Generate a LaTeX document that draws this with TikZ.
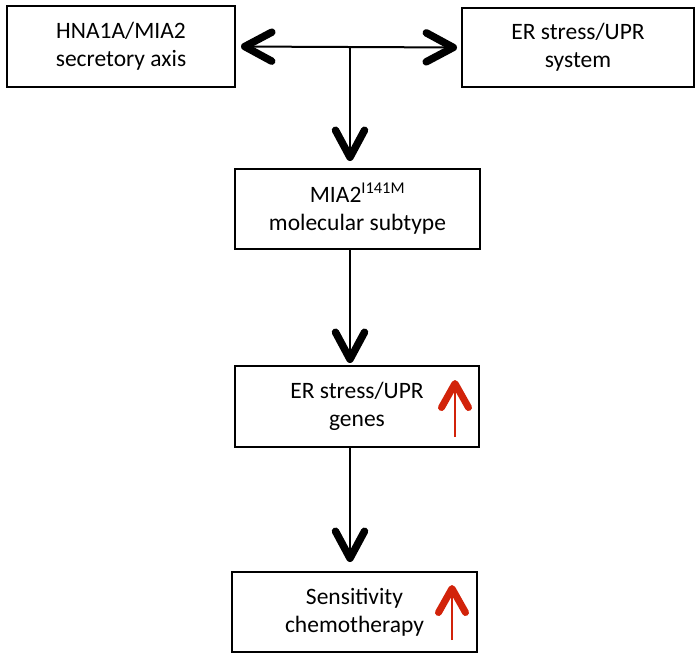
\documentclass[tikz,border=0pt]{standalone}
\usepackage{fontspec}
\setmainfont{Carlito}
\usetikzlibrary{arrows.meta}
\definecolor{upred}{RGB}{210,35,10}
\begin{document}
\begin{tikzpicture}[x=1pt,y=-1pt,
  box/.style={draw=black,line width=2pt,align=center,inner sep=0pt,
    font=\fontsize{23.5}{28}\selectfont},
  chev/.style={line width=2pt,-{Straight Barb[length=27pt,width=29pt,line width=7.5pt,round]}},
  dchev/.style={line width=2pt,{Straight Barb[length=27pt,width=29pt,line width=7.5pt,round]}-{Straight Barb[length=27pt,width=29pt,line width=7.5pt,round]}},
  uparrow/.style={draw=upred,line width=2pt,-{Straight Barb[length=24pt,width=27pt,line width=7pt,round]}}]
\useasboundingbox (0,0) rectangle (699,659);
\node[box,minimum width=228pt,minimum height=81pt] (hna) at (121,46.5) {HNA1A/MIA2\\secretory axis};
\node[box,minimum width=232pt,minimum height=79pt] (ers) at (578,47.5) {ER stress/UPR\\system};
\node[box,minimum width=245pt,minimum height=80pt] (mia) at (357.5,209) {MIA2\textsuperscript{I141M}\\molecular subtype};
\node[box,minimum width=244pt,minimum height=81pt] (genes) at (357,406.5) {ER stress/UPR\\genes};
\node[box,minimum width=245pt,minimum height=80pt] (sens) at (354.5,612) {Sensitivity\\chemotherapy};
\coordinate (j) at (350,47);
\draw[dchev,shorten <=5pt,shorten >=4pt] (hna.east) -- (ers.west);
\draw[chev,shorten >=7pt] (j) -- (j |- mia.north);
\draw[chev,shorten >=2pt] (j |- mia.south) -- (j |- genes.north);
\draw[chev,shorten >=9pt] (j |- genes.south) -- (j |- sens.north);
\coordinate (r1a) at (455,437);
\coordinate (r1b) at (455,380);
\coordinate (r2a) at (452,640);
\coordinate (r2b) at (452,585);
\draw[uparrow] (r1a) -- (r1b);
\draw[uparrow] (r2a) -- (r2b);
\end{tikzpicture}
\end{document}
